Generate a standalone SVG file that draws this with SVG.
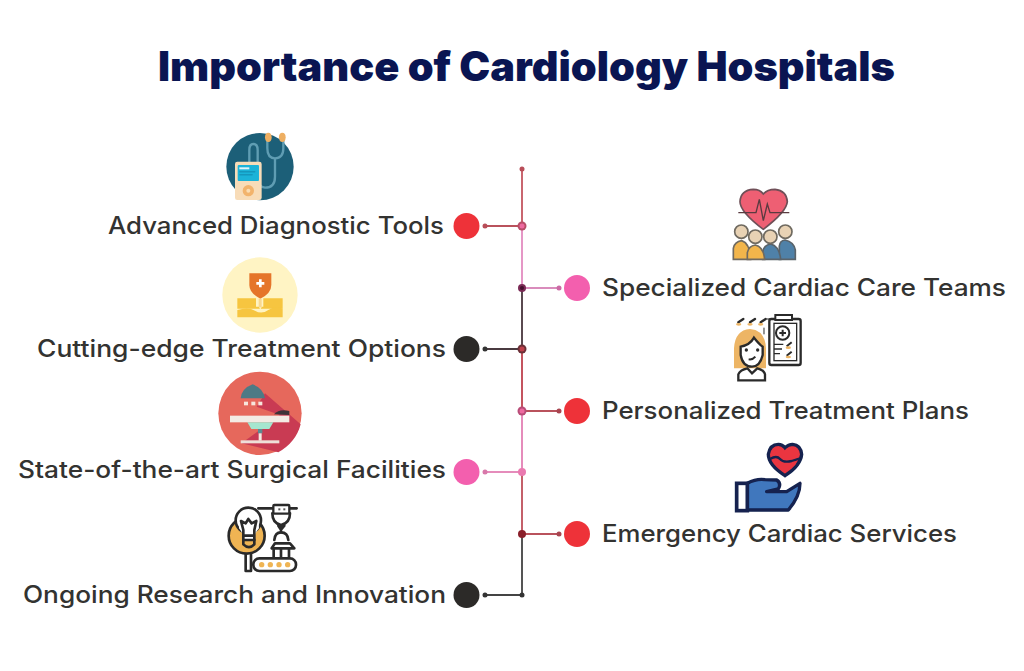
<svg xmlns="http://www.w3.org/2000/svg" width="1024" height="671" viewBox="0 0 1024 671">
<style>
text{font-family:"Inter","Open Sans","Liberation Sans",sans-serif}
.t{font-size:24px;font-weight:500;fill:#333331}
.title{font-size:41px;font-weight:900;fill:#0a1552}
.ik{fill:none;stroke:#2b2b2b;stroke-width:8;stroke-linecap:round;stroke-linejoin:round}
.nv{fill:none;stroke:#12224f;stroke-width:10;stroke-linejoin:round}
.skin{fill:#e8d2b4;stroke:#6f6a60;stroke-width:5}
.d{stroke:#2b2b2b;fill:none}
</style>
<defs><filter id="s" x="-5%" y="-5%" width="110%" height="110%"><feGaussianBlur stdDeviation="0.45"/></filter></defs>
<rect width="1024" height="671" fill="#fff"/>
<text class="title" x="158" y="81" textLength="737" lengthAdjust="spacingAndGlyphs">Importance of Cardiology Hospitals</text>
<g id="connectors" fill="none" stroke-width="2">
<path d="M522 169V226" stroke="#c9666f"/>
<path d="M522 226V288" stroke="#e597c6"/>
<path d="M522 288V349" stroke="#5a4a50"/>
<path d="M522 349V411" stroke="#c4545f"/>
<path d="M522 411V472" stroke="#e58cbb"/>
<path d="M522 472V534" stroke="#c4606a"/>
<path d="M522 534V595" stroke="#555"/>
<path d="M485 226H522" stroke="#b9525c"/>
<path d="M522 288H559" stroke="#d98cbc"/>
<path d="M485 349H522" stroke="#4a3a40"/>
<path d="M522 411H559" stroke="#b9525c"/>
<path d="M485 472H522" stroke="#e58cbb"/>
<path d="M522 534H559" stroke="#b9525c"/>
<path d="M485 595H522" stroke="#444"/>
<g stroke="none">
<circle cx="522" cy="169" r="2.500" fill="#b84d58"/>
<circle cx="522" cy="226" r="4.500" fill="#b84d68"/><circle cx="522" cy="226" r="2.500" fill="#ee6aa0"/>
<circle cx="485" cy="226" r="2.500" fill="#b84d58"/>
<circle cx="522" cy="288" r="4" fill="#7a2a55"/><circle cx="522" cy="288" r="2" fill="#45102e"/>
<circle cx="559" cy="288" r="2.500" fill="#cc6aa5"/>
<circle cx="522" cy="349" r="4.500" fill="#6b3038"/><circle cx="522" cy="349" r="2.500" fill="#c0404c"/>
<circle cx="485" cy="349" r="2.500" fill="#333"/>
<circle cx="522" cy="411" r="4.500" fill="#b84d78"/><circle cx="522" cy="411" r="2.500" fill="#ee6aa0"/>
<circle cx="559" cy="411" r="2.500" fill="#a84550"/>
<circle cx="522" cy="472" r="4" fill="#ea7ab0"/>
<circle cx="485" cy="472" r="2.500" fill="#d878aa"/>
<circle cx="522" cy="534" r="4" fill="#8a1f2a"/>
<circle cx="559" cy="534" r="2.500" fill="#a84550"/>
<circle cx="522" cy="595" r="2.500" fill="#333"/>
<circle cx="485" cy="595" r="2.500" fill="#333"/>
</g>
</g>

<g id="node-advanced-diagnostic-tools">
<text class="t" x="108" y="233.500" textLength="336" lengthAdjust="spacingAndGlyphs">Advanced Diagnostic Tools</text>
<circle cx="466.500" cy="226" r="13" fill="#ee3239"/>
<g transform="translate(210,120) scale(.3333)" filter="url(#s)">
<circle cx="150" cy="140" r="101" fill="#1e5f78"/>
<path d="M118 130V90Q118 72 130 72Q143 72 143 90V170Q143 200 165 203Q195 203 195 170V115" fill="none" stroke="#5f9db3" stroke-width="7"/>
<path d="M172 58V85Q172 115 195 115Q220 115 220 85V58" fill="none" stroke="#5f9db3" stroke-width="7"/>
<ellipse cx="175" cy="52" rx="10" ry="14" fill="#eeaf62"/><ellipse cx="217" cy="52" rx="10" ry="14" fill="#eeaf62"/>
<rect x="75" y="125" width="80" height="115" rx="7" fill="#f8dcb8"/>
<rect x="83" y="135" width="64" height="48" rx="3" fill="#1fb3d8"/>
<rect x="88" y="142" width="30" height="6" fill="#dff5fb"/><rect x="88" y="154" width="48" height="3" fill="#128ab0"/><rect x="88" y="163" width="40" height="3" fill="#128ab0"/>
<circle cx="115" cy="212" r="17" fill="#f2b36c"/><circle cx="115" cy="212" r="6" fill="#fadcb2"/>
</g>
</g>

<g id="node-cutting-edge-treatment-options">
<text class="t" x="37" y="356.500" textLength="409" lengthAdjust="spacingAndGlyphs">Cutting-edge Treatment Options</text>
<circle cx="466.500" cy="349" r="13" fill="#2c2a28"/>
<g transform="translate(210,250) scale(.3333)" filter="url(#s)">
<circle cx="150" cy="135" r="113" fill="#fff4c4"/>
<path d="M118 70H184V105Q184 130 151 146Q118 130 118 105Z" fill="#e5752a"/>
<path d="M151 88V112M139 100H163" stroke="#fff" stroke-width="8"/>
<rect x="146" y="146" width="9" height="26" fill="#f9d890"/>
<path d="M82 145H138V170H146L150 176H82Z" fill="#f6c53f"/>
<path d="M160 145H218V176H152L156 170H160Z" fill="#f6c53f"/>
<path d="M82 180Q115 170 135 182T175 180T218 176V202H82Z" fill="#f6c53f"/>
</g>
</g>

<g id="node-state-of-the-art-surgical-facilities">
<text class="t" x="18" y="478" textLength="428" lengthAdjust="spacingAndGlyphs">State-of-the-art Surgical Facilities</text>
<circle cx="466.500" cy="472" r="13" fill="#f35fae"/>
<g transform="translate(210,365) scale(.3333)" filter="url(#s)">
<circle cx="150" cy="145" r="125" fill="#e6675c"/>
<path d="M165 85L272 178Q258 232 205 262L95 235L210 150L140 125Z" fill="#c93b52"/>
<path d="M92 100Q95 70 128 58Q160 70 165 100Z" fill="#4d7a85"/>
<rect x="102" y="110" width="12" height="11" fill="#f7e6dc"/><rect x="124" y="110" width="12" height="11" fill="#f7e6dc"/><rect x="145" y="110" width="12" height="11" fill="#f7e6dc"/>
<path d="M192 148Q208 130 238 138V150Z" fill="#3c3238"/>
<rect x="60" y="152" width="178" height="20" fill="#f3ebe4"/>
<path d="M112 172H190L178 192H124Z" fill="#a5e6cf"/>
<rect x="144" y="192" width="13" height="13" fill="#5c8a92"/>
<rect x="146" y="205" width="9" height="22" fill="#f3ebe4"/>
<rect x="92" y="226" width="116" height="9" fill="#eedfd8"/>
</g>
</g>

<g id="node-ongoing-research-and-innovation">
<text class="t" x="23" y="603" textLength="423" lengthAdjust="spacingAndGlyphs">Ongoing Research and Innovation</text>
<circle cx="466.500" cy="595" r="13" fill="#2c2a28"/>
<g transform="translate(215,495) scale(.3333)" filter="url(#s)">
<circle cx="95" cy="122" r="54" fill="#efb452" stroke="#2b2b2b" stroke-width="8"/>
<circle cx="100" cy="76" r="38" fill="#fff" stroke="#2b2b2b" stroke-width="8"/>
<path d="M72 100Q85 115 85 135H118Q118 115 132 100L130 70H72Z" fill="#fff"/>
<path class="ik" d="M85 135V105L78 78L92 85L100 72L110 85L124 78L118 105V135"/>
<path class="ik" d="M85 135H118V148Q102 165 85 148ZM88 122H115"/>
<path class="ik" d="M92 178V228H108V178M130 40H245"/>
<rect x="175" y="30" width="48" height="26" rx="3" fill="#fff" stroke="#2b2b2b" stroke-width="7"/>
<rect x="190" y="40" width="6" height="6" fill="#555"/><rect x="205" y="40" width="6" height="6" fill="#555"/>
<path class="ik" d="M172 55Q172 85 198 90Q225 85 225 55M190 92H208L198 104ZM198 104V112"/>
<path class="ik" d="M178 135Q180 112 198 112Q218 112 220 135"/>
<path class="ik" d="M170 160L180 145H225L238 160M170 160H238M176 160V188M198 160V188M222 160V188"/>
<rect x="115" y="190" width="128" height="38" rx="18" fill="#fff" stroke="#2b2b2b" stroke-width="8"/>
<circle cx="140" cy="209" r="8" fill="#efb452"/><circle cx="166" cy="209" r="8" fill="#efb452"/><circle cx="192" cy="209" r="8" fill="#efb452"/><circle cx="218" cy="209" r="8" fill="#efb452"/>
</g>
</g>

<g id="node-specialized-cardiac-care-teams">
<circle cx="577" cy="288" r="13" fill="#f35fae"/>
<text class="t" x="602" y="295.500" textLength="404" lengthAdjust="spacingAndGlyphs">Specialized Cardiac Care Teams</text>
<g transform="translate(720,180) scale(.3333)" filter="url(#s)">
<path d="M130 148Q60 95 60 65Q62 30 100 28Q120 28 130 42Q142 28 165 28Q200 32 202 65Q200 95 130 148Z" fill="#ee5f73" stroke="#6f5058" stroke-width="5"/>
<path d="M55 98H108L118 58L130 122L142 72L150 98H208" fill="none" stroke="#5a3a40" stroke-width="4"/>
<path d="M178 238V198Q180 182 195 180Q222 186 226 210V238Z" fill="#4f81a8" stroke="#5a646a" stroke-width="5"/>
<circle cx="196" cy="155" r="20" class="skin"/>
<path d="M40 238V205Q44 185 65 182Q90 190 92 238Z" fill="#f2b54c" stroke="#6f6a60" stroke-width="5"/>
<circle cx="64" cy="155" r="20" class="skin"/>
<path d="M128 238V215Q132 195 152 192Q178 198 182 238Z" fill="#4f81a8" stroke="#5a646a" stroke-width="5"/>
<circle cx="151" cy="170" r="20" class="skin"/>
<path d="M82 238V218Q86 198 106 195Q130 200 134 238Z" fill="#f2b54c" stroke="#6f6a60" stroke-width="5"/>
<circle cx="106" cy="170" r="20" class="skin"/>
</g>
</g>

<g id="node-personalized-treatment-plans">
<circle cx="577" cy="411" r="13" fill="#ee3239"/>
<text class="t" x="602" y="418.500" textLength="367" lengthAdjust="spacingAndGlyphs">Personalized Treatment Plans</text>
<g transform="translate(720,305) scale(.3333)" filter="url(#s)">
<path d="M42 200V130Q45 75 90 72Q135 75 138 130V190H42Z" fill="#edb565"/>
<rect x="148" y="42" width="94" height="138" rx="6" fill="#fff" stroke="#2b2b2b" stroke-width="7"/>
<rect x="162" y="55" width="68" height="112" fill="#fff" stroke="#2b2b2b" stroke-width="4"/>
<rect x="166" y="30" width="50" height="15" fill="#fff" stroke="#2b2b2b" stroke-width="6"/>
<circle cx="188" cy="84" r="20" fill="none" stroke="#2b2b2b" stroke-width="6"/>
<path d="M188 74V94M178 84H198" stroke="#2b2b2b" stroke-width="6"/>
<path d="M162 118H190M162 132H186M162 146H180" stroke="#2b2b2b" stroke-width="4"/>
<path d="M200 124L215 112M200 152L215 140" stroke="#2b2b2b" stroke-width="6"/>
<ellipse cx="205" cy="128" rx="8" ry="4" fill="#edb565"/><ellipse cx="205" cy="156" rx="8" ry="4" fill="#edb565"/>
<path d="M55 52L70 42M90 52L105 42M122 52L137 42" stroke="#2b2b2b" stroke-width="7" stroke-linecap="round"/>
<ellipse cx="56" cy="58" rx="8" ry="4" fill="#edb565"/><ellipse cx="90" cy="58" rx="8" ry="4" fill="#edb565"/><ellipse cx="122" cy="58" rx="8" ry="4" fill="#edb565"/>
<path d="M132 68V88M140 42H165" stroke="#2b2b2b" stroke-width="3"/>
<path d="M62 125Q90 120 102 98Q118 118 128 125V150Q120 185 96 185Q68 185 62 150Z" fill="#fff" stroke="#2b2b2b" stroke-width="7"/>
<circle cx="79" cy="135" r="5" fill="#2b2b2b"/><circle cx="113" cy="135" r="5" fill="#2b2b2b"/>
<path d="M86 163Q98 165 106 155" fill="none" stroke="#2b2b2b" stroke-width="6"/>
<path d="M55 226V208Q60 195 82 190L96 205L112 190Q132 195 135 208V226Z" fill="#fff" stroke="#2b2b2b" stroke-width="7"/>
</g>
</g>

<g id="node-emergency-cardiac-services">
<circle cx="577" cy="534" r="13" fill="#ee3239"/>
<text class="t" x="602" y="541.500" textLength="355" lengthAdjust="spacingAndGlyphs">Emergency Cardiac Services</text>
<g transform="translate(720,435) scale(.3333)" filter="url(#s)">
<path d="M195 122Q145 90 145 58Q150 28 175 28Q187 28 195 38Q205 28 218 28Q242 30 245 58Q242 92 195 122Z" fill="#ea3640" stroke="#12224f" stroke-width="10"/>
<path d="M150 72Q170 60 180 72T215 78L240 70" fill="none" stroke="#12224f" stroke-width="7"/>
<path d="M82 145Q110 130 135 134L170 135Q185 145 175 162L140 170L200 170L240 145Q240 185 205 225H82Z" fill="#3f77bd"/>
<path class="nv" d="M82 145Q110 130 135 134L170 135Q185 145 175 162L140 170L200 170L240 145Q240 185 205 225H82Z"/>
<rect x="50" y="145" width="32" height="82" fill="#fff" stroke="#12224f" stroke-width="11"/>
</g>
</g>
</svg>
